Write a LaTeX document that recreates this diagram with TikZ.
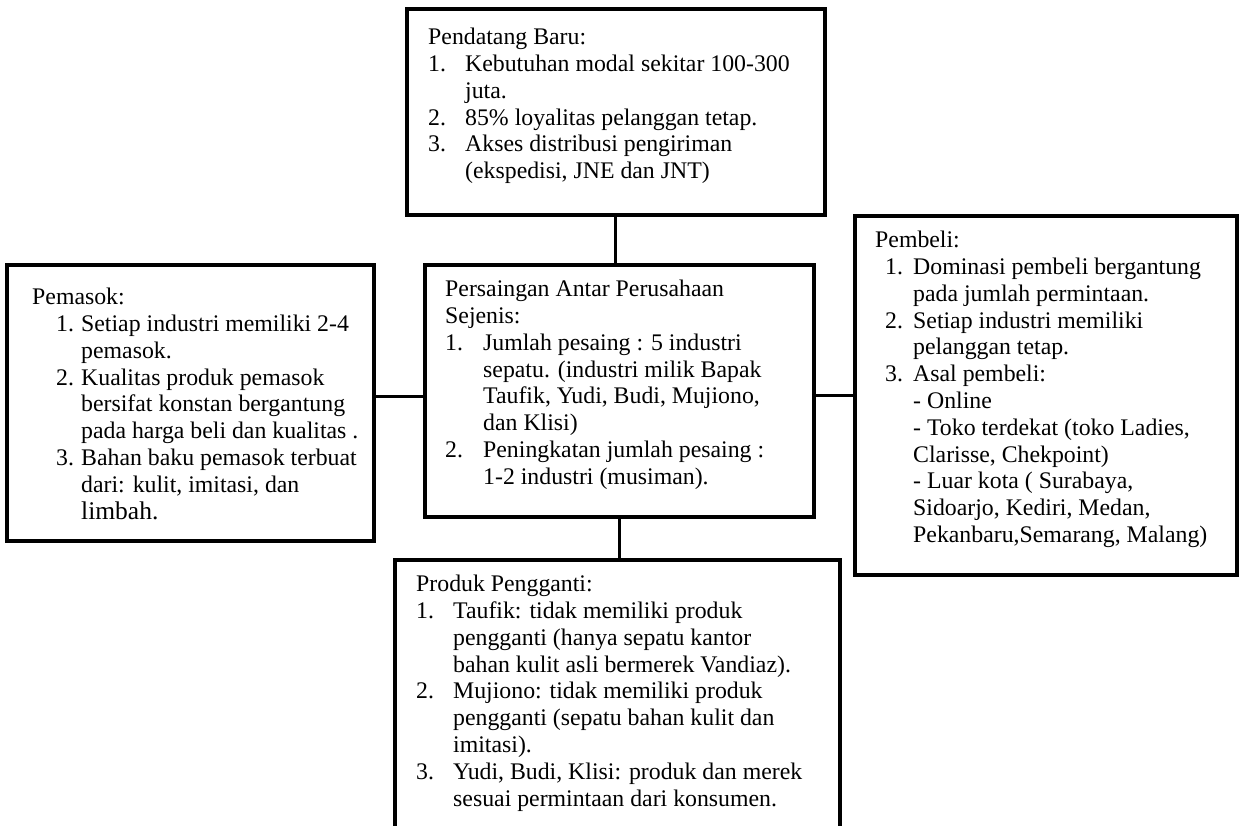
\documentclass[tikz,border=0pt]{standalone}
\usepackage{fontspec}
\setmainfont{Liberation Serif}
\newcommand{\numbox}[2]{\makebox[#1][l]{#2}}

\begin{document}
\begin{tikzpicture}[x=1pt,y=-1pt,
                    box/.style={draw,line width=3.8pt,fill=white,anchor=north west,inner sep=0pt},
                    txt/.style={anchor=north west,inner sep=0pt,align=left,
                                font=\fontsize{23.8}{26.8}\selectfont},
                    link/.style={line width=3pt}]
  \clip (0,0) rectangle (1239,825);

  \node[box,minimum width=418,minimum height=206] (baru)      at (405,7)   {};
  \node[box,minimum width=367,minimum height=276] (pemasok)   at (5,263)   {};
  \node[box,minimum width=389,minimum height=252] (saing)     at (423,263) {};
  \node[box,minimum width=382,minimum height=359] (pembeli)   at (853,214) {};
  \node[box,minimum width=445,minimum height=290] (pengganti) at (393,558) {};

  \draw[link] (baru.south) -- (baru.south |- saing.north);
  \draw[link] ([yshift=6pt]pemasok.east) -- ([yshift=6pt]pemasok.east -| saing.west);
  \draw[link] (pembeli.west) -- (pembeli.west -| saing.east);
  \draw[link] (saing.south) -- (saing.south |- pengganti.north);

  \node[txt] (barutxt) at ([xshift=23pt,yshift=-21pt]baru.north west)
    {Pendatang Baru:\\
     \numbox{37pt}{1.}Kebutuhan modal sekitar 100-300\\
     \hspace*{37pt}juta.\\
     \numbox{37pt}{2.}85\% loyalitas pelanggan tetap.\\
     \numbox{37pt}{3.}Akses distribusi pengiriman\\
     \hspace*{37pt}(ekspedisi, JNE dan JNT)};

  \node[txt] (pemasoktxt) at ([xshift=27pt,yshift=-25pt]pemasok.north west)
    {Pemasok:\\
     \hspace*{24pt}\numbox{25pt}{1.}Setiap industri memiliki 2-4\\
     \hspace*{49pt}pemasok.\\
     \hspace*{24pt}\numbox{25pt}{2.}Kualitas produk pemasok\\
     \hspace*{49pt}bersifat konstan bergantung\\
     \hspace*{49pt}pada harga beli dan kualitas .\\
     \hspace*{24pt}\numbox{25pt}{3.}Bahan baku pemasok terbuat\\
     \hspace*{49pt}dari: kulit, imitasi, dan\\
     \hspace*{49pt}{\fontsize{25.5}{26.8}\selectfont limbah.}};

  \node[txt] (saingtxt) at ([xshift=22pt,yshift=-17pt]saing.north west)
    {Persaingan Antar Perusahaan\\
     Sejenis:\\
     \numbox{38pt}{1.}Jumlah pesaing : 5 industri\\
     \hspace*{38pt}sepatu. (industri milik Bapak\\
     \hspace*{38pt}Taufik, Yudi, Budi, Mujiono,\\
     \hspace*{38pt}dan Klisi)\\
     \numbox{38pt}{2.}Peningkatan jumlah pesaing :\\
     \hspace*{38pt}1-2 industri (musiman).};

  \node[txt] (pembelitxt) at ([xshift=22pt,yshift=-17pt]pembeli.north west)
    {Pembeli:\\
     \hspace*{10pt}\numbox{28pt}{1.}Dominasi pembeli bergantung\\
     \hspace*{38pt}pada jumlah permintaan.\\
     \hspace*{10pt}\numbox{28pt}{2.}Setiap industri memiliki\\
     \hspace*{38pt}pelanggan tetap.\\
     \hspace*{10pt}\numbox{28pt}{3.}Asal pembeli:\\
     \hspace*{38pt}- Online\\
     \hspace*{38pt}- Toko terdekat (toko Ladies,\\
     \hspace*{38pt}Clarisse, Chekpoint)\\
     \hspace*{38pt}- Luar kota ( Surabaya,\\
     \hspace*{38pt}Sidoarjo, Kediri, Medan,\\
     \hspace*{38pt}Pekanbaru,Semarang, Malang)};

  \node[txt] (penggantitxt) at ([xshift=23pt,yshift=-17pt]pengganti.north west)
    {Produk Pengganti:\\
     \numbox{37pt}{1.}Taufik: tidak memiliki produk\\
     \hspace*{37pt}pengganti (hanya sepatu kantor\\
     \hspace*{37pt}bahan kulit asli bermerek Vandiaz).\\
     \numbox{37pt}{2.}Mujiono: tidak memiliki produk\\
     \hspace*{37pt}pengganti (sepatu bahan kulit dan\\
     \hspace*{37pt}imitasi).\\
     \numbox{37pt}{3.}Yudi, Budi, Klisi: produk dan merek\\
     \hspace*{37pt}sesuai permintaan dari konsumen.};
\end{tikzpicture}
\end{document}
